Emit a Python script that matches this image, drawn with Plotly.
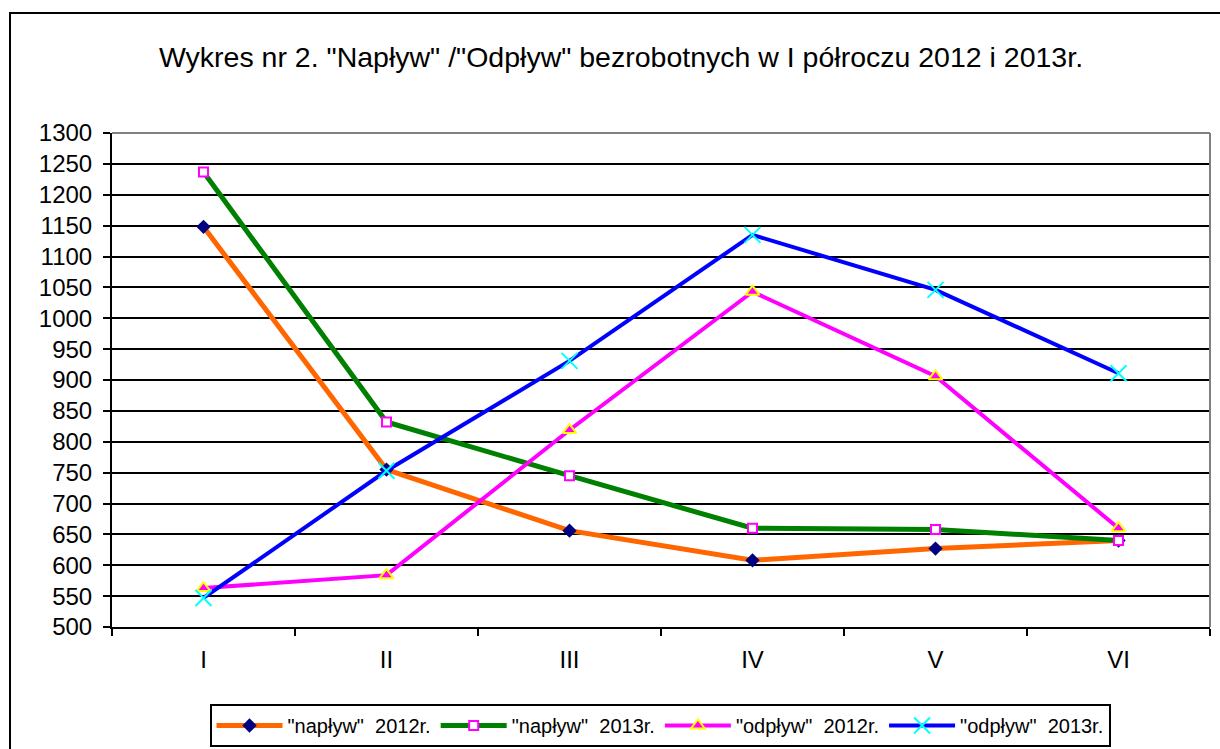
import plotly.graph_objects as go

months = ["I", "II", "III", "IV", "V", "VI"]
naplyw_2012 = [1148, 755, 656, 608, 627, 640]
naplyw_2013 = [1237, 832, 745, 660, 658, 640]
odplyw_2012 = [563, 584, 819, 1043, 906, 660]
odplyw_2013 = [547, 753, 931, 1135, 1046, 911]
series_names = ['"napływ"  2012r.', '"napływ"  2013r.', '"odpływ"  2012r.', '"odpływ"  2013r.']
title_text = 'Wykres nr 2. "Napływ" /"Odpływ" bezrobotnych w I półroczu 2012 i 2013r.'

FONT = "Liberation Sans, Arial, sans-serif"

fig = go.Figure()
fig.add_trace(go.Scatter(
    x=months, y=naplyw_2012, name=series_names[0], mode="lines+markers",
    line=dict(color="#FF6600", width=5),
    marker=dict(symbol="diamond", size=11, color="#000080", line=dict(width=0)),
))
fig.add_trace(go.Scatter(
    x=months, y=naplyw_2013, name=series_names[1], mode="lines+markers",
    line=dict(color="#008000", width=5),
    marker=dict(symbol="square", size=9, color="white", line=dict(color="#FF00FF", width=2)),
))
fig.add_trace(go.Scatter(
    x=months, y=odplyw_2012, name=series_names[2], mode="lines+markers",
    line=dict(color="#FF00FF", width=4),
    marker=dict(symbol="triangle-up", size=12, color="#FF00FF", line=dict(color="#FFFF00", width=2)),
))
fig.add_trace(go.Scatter(
    x=months, y=odplyw_2013, name=series_names[3], mode="lines+markers",
    line=dict(color="#0000FF", width=4),
    marker=dict(symbol="x-thin", size=16, color="#00FFFF", line=dict(color="#00FFFF", width=2)),
))

L, R, T, B = 112, 10, 133, 122
W, H = 1220, 749
pw, ph = W - L - R, H - T - B

def px(x):
    return (x - L) / pw

def py(y):
    return (H - B - y) / ph

fig.update_layout(
    width=W, height=H,
    margin=dict(l=L, r=R, t=T, b=B, autoexpand=False),
    paper_bgcolor="white", plot_bgcolor="white",
    font=dict(family=FONT, color="black", size=22),
    title=dict(text=title_text, x=621 / W, xanchor="center", xref="container",
               y=1 - 57 / H, yanchor="middle", font=dict(size=28.5, family=FONT)),
    showlegend=True,
    legend=dict(orientation="h", x=660 / W, xanchor="center", xref="container",
                y=1 - 747 / H, yanchor="bottom", yref="container",
                bordercolor="black", borderwidth=2, bgcolor="white",
                font=dict(size=20, family=FONT), itemwidth=66, tracegroupgap=0),
    xaxis=dict(type="category", showgrid=False, showline=True, linecolor="black", linewidth=2,
               ticks="outside", tickson="boundaries", ticklen=7, tickwidth=2, tickcolor="black",
               tickfont=dict(size=24, family=FONT), ticklabelstandoff=10, zeroline=False,
               range=[-0.5, 5.5]),
    yaxis=dict(range=[500, 1300], dtick=50, tick0=500, showgrid=True, gridcolor="black", gridwidth=2,
               showline=True, linecolor="black", linewidth=2, ticks="outside", ticklen=7,
               tickwidth=2, tickcolor="black", tickfont=dict(size=24, family=FONT),
               ticklabelstandoff=6, zeroline=False),
    shapes=[
        dict(type="rect", xref="paper", yref="paper", x0=px(10), x1=px(1240), y0=py(770), y1=py(13),
             line=dict(color="black", width=2), fillcolor="rgba(0,0,0,0)", layer="below"),
        dict(type="line", xref="paper", yref="paper", x0=0, x1=1, y0=1, y1=1,
             line=dict(color="#808080", width=2)),
        dict(type="line", xref="paper", yref="paper", x0=1, x1=1, y0=0, y1=1,
             line=dict(color="#808080", width=2)),
    ],
)

fig.write_html("out.html", config={"displayModeBar": False},
               post_script="document.body.style.margin='0';document.body.style.overflow='hidden';")
